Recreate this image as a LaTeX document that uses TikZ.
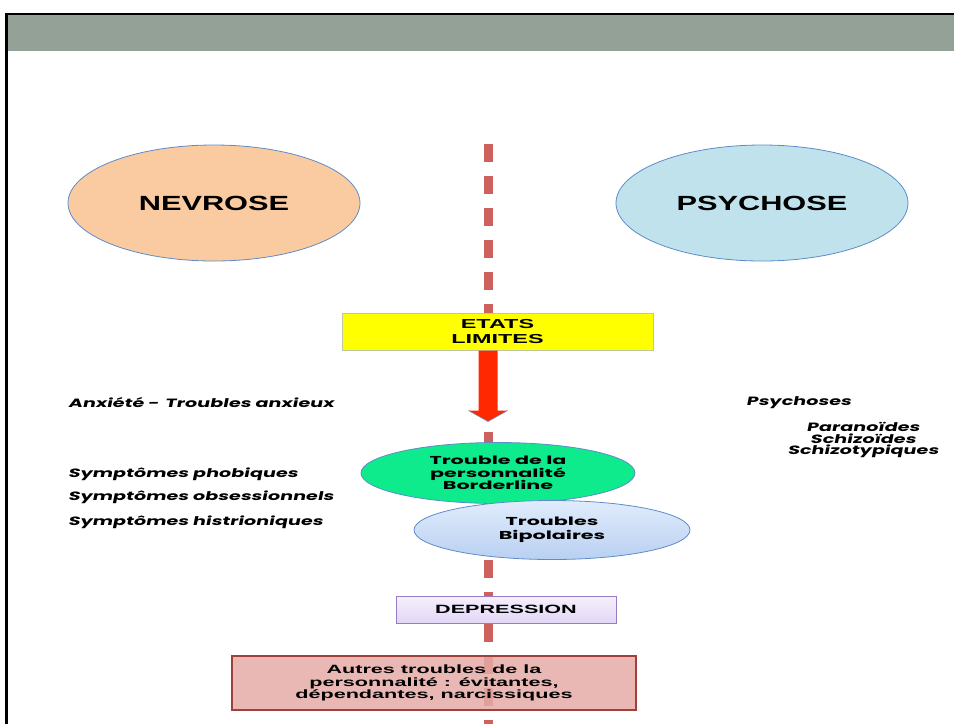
\documentclass[tikz,border=0pt]{standalone}
\usepackage{fontspec}
\setmainfont{Liberation Sans}[FakeStretch=1.5]
\newfontfamily\wideb{Liberation Sans}[FakeStretch=1.8]
\newfontfamily\geo{Poppins}[FakeStretch=1.8]
\newfontfamily\geoit{Poppins}[FakeStretch=1.6,FakeSlant=0.2]
\usetikzlibrary{shapes.geometric,calc}
\definecolor{band}{RGB}{147,161,150}
\definecolor{axisred}{RGB}{206,96,94}
\definecolor{peach}{RGB}{250,203,160}
\definecolor{skyfill}{RGB}{192,226,236}
\definecolor{edgeblue}{RGB}{95,140,200}
\definecolor{yel}{RGB}{255,255,0}
\definecolor{yeledge}{RGB}{190,200,160}
\definecolor{arrowred}{RGB}{255,40,0}
\definecolor{greenfill}{RGB}{14,235,140}
\definecolor{bipoA}{RGB}{225,236,252}
\definecolor{bipoB}{RGB}{185,208,242}
\definecolor{lavA}{RGB}{246,240,253}
\definecolor{lavB}{RGB}{226,214,246}
\definecolor{lavedge}{RGB}{150,125,196}
\definecolor{pinkfill}{RGB}{229,172,168}
\definecolor{pinkedge}{RGB}{160,64,58}
\tikzset{
  bigell/.style={ellipse, draw=edgeblue, line width=0.8pt, inner sep=0pt,
    minimum width=292pt, minimum height=116pt, font=\fontsize{20.5}{24}\selectfont\bfseries},
  smallell/.style={ellipse, draw=edgeblue, line width=0.8pt, inner sep=0pt,
    font=\geo\fontsize{11.5}{12.5}\selectfont\bfseries, align=center},
  boxlab/.style={draw, inner sep=0pt, align=center},
  sidetext/.style={font=\geoit\fontsize{12}{11.8}\selectfont\bfseries, inner sep=0pt},
}
\begin{document}
\begin{tikzpicture}[x=1pt,y=-1pt]
\useasboundingbox (0,0) rectangle (954,724);
% header band and frame
\fill[band] (7,15) rectangle (954,51);
\draw[black, line width=2.5pt] (6.5,724) -- (6.5,14) -- (954,14);
% vertical dashed axis
\coordinate (axtop) at (488,144);
\coordinate (axbot) at (488,724);
\draw[axisred, line width=9pt, dash pattern=on 18pt off 14pt] (axtop) -- (axbot);
% main ellipses
\node[bigell, fill=peach] (nev) at (214,203) {NEVROSE};
\node[bigell, fill=skyfill] (psy) at (762,203) {PSYCHOSE};
% etats limites
\node[boxlab, draw=yeledge, fill=yel, line width=1pt, minimum width=311pt, minimum height=37pt,
  font=\wideb\fontsize{13}{15}\selectfont\bfseries] (etats) at (497.5,331.5) {ETATS\\LIMITES};
% red arrow
\fill[arrowred] ($(axtop|-etats.south)+(-9.5,0)$) -- ++(0,60) -- ++(-10,0)
  -- ($(axtop|-etats.south)+(0,71)$) coordinate (tip) -- ++(19.5,-11) -- ++(-10,0) -- ++(0,-60) -- cycle;
\draw[edgeblue, line width=0.6pt] ($(tip)+(-19.5,-11)$) -- (tip) -- ++(19.5,-11);
% borderline
\node[smallell, fill=greenfill, minimum width=274pt, minimum height=61pt] (border) at (498,473)
  {Trouble de la\\personnalité\\Borderline};
% bipolaires
\node[smallell, top color=bipoA, bottom color=bipoB, minimum width=276pt, minimum height=59pt,
  font=\geo\fontsize{11.5}{13.5}\selectfont\bfseries] (bipo) at (552,530)
  {Troubles\\Bipolaires};
% depression
\node[boxlab, draw=lavedge, top color=lavA, bottom color=lavB, line width=1pt, minimum width=220pt, minimum height=27pt,
  font=\wideb\fontsize{12}{14}\selectfont\bfseries] (dep) at (506,609.5) {DEPRESSION};
% autres troubles
\node[boxlab, draw=pinkedge, fill=pinkfill, fill opacity=0.85, text opacity=1, line width=2pt, minimum width=404pt, minimum height=54pt,
  font=\wideb\fontsize{12}{12.8}\selectfont\bfseries] (autres) at (434,683)
  {Autres troubles de la\\personnalité : évitantes,\\dépendantes, narcissiques};
% side texts
\node[sidetext, anchor=west] (anx) at (68,403) {Anxiété -\enspace Troubles anxieux};
\node[sidetext, anchor=west] (phob) at (68,474) {Symptômes phobiques};
\node[sidetext, anchor=west] (obs) at (68,497) {Symptômes obsessionnels};
\node[sidetext, anchor=west] (hist) at (68,522) {Symptômes histrioniques};
\node[sidetext, anchor=west] (psyc) at (746,403) {Psychoses};
\node[sidetext, align=center] (sub) at (863,440) {Paranoïdes\\Schizoïdes\\Schizotypiques};
\end{tikzpicture}
\end{document}
